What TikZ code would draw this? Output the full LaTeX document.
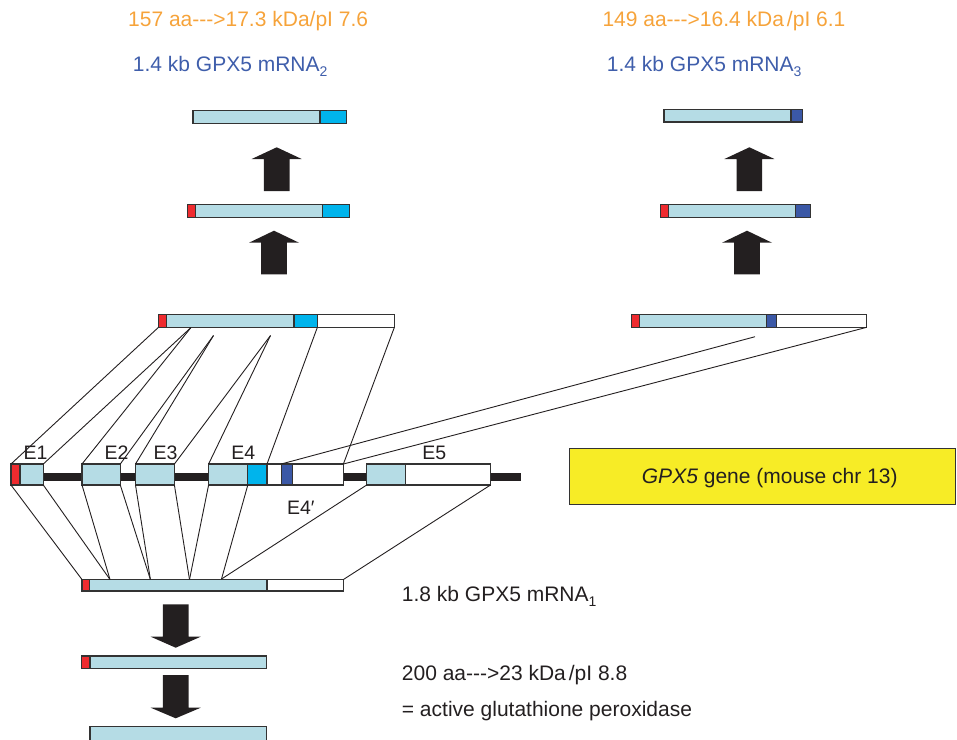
\documentclass[tikz,border=0pt]{standalone}
\usepackage{fontspec}
\setmainfont{Liberation Sans}
\definecolor{lb}{HTML}{B5DCE5}
\definecolor{cy}{HTML}{00B4EC}
\definecolor{db}{HTML}{3B58A6}
\definecolor{rd}{HTML}{EE2B2F}
\definecolor{yel}{HTML}{F7EC26}
\definecolor{org}{HTML}{F6A33A}
\definecolor{blu}{HTML}{3F5EAB}
\definecolor{dk}{HTML}{231F20}
\definecolor{outl}{HTML}{333333}
\newcommand\dsh{\mbox{-}\mbox{-}\mbox{-}\mbox{>}}
\newcommand\sbs[1]{\raisebox{-4.5pt}{\fontsize{14}{14}\selectfont #1}}
\newcommand\segm[6]{\node[segbox, fill=#2, minimum width={(#4-#3)*1pt}, minimum height={(#6-#5)*1pt}] (#1) at ({(#3+#4)/2},{(#5+#6)/2}) {};}
\newcommand\blkarr[4]{\fill[dk] ({#1},{#2}) -- ({#1+25},{#3}) -- ({#1+12.8},{#3}) -- ({#1+12.8},{#4}) -- ({#1-12.8},{#4}) -- ({#1-12.8},{#3}) -- ({#1-25},{#3}) -- cycle;}
\tikzset{
 segbox/.style={draw=outl, line width=1.1pt, inner sep=0pt, outer sep=0pt, rectangle},
 conn/.style={draw=dk, line width=0.9pt},
 intron/.style={draw=dk, line width=7.3pt},
 lbl/.style={inner sep=0pt, anchor=base west, font=\fontsize{21}{25}\selectfont},
 exlbl/.style={inner sep=0pt, anchor=base, font=\fontsize{19.5}{23}\selectfont, text=dk},
}
\begin{document}
\begin{tikzpicture}[x=1pt,y=-1pt]
\clip (0,0) rectangle (957,739);
% gene
\coordinate (gs) at (43,477);
\coordinate (ge) at (521,477);
\draw[intron] (gs) -- (ge);
\segm{e1a}{rd}{11}{20}{464}{485}
\segm{e1b}{lb}{20}{43.3}{464}{485}
\segm{e2}{lb}{82}{120.3}{464}{485}
\segm{e3}{lb}{135.5}{174.4}{464}{485}
\segm{e4a}{lb}{208.6}{247.8}{464}{485}
\segm{e4b}{cy}{247.8}{267}{464}{485}
\segm{e4p}{white}{267}{343.4}{464}{485}
\segm{e4q}{db}{281.2}{292.7}{464}{485}
\segm{e5a}{lb}{366.7}{405.3}{464}{485}
\segm{e5b}{white}{405.3}{490.5}{464}{485}
\node[exlbl] (le1) at (35.5,459) {E1};
\node[exlbl] (le2) at (116.6,459) {E2};
\node[exlbl] (le3) at (165.6,459) {E3};
\node[exlbl] (le4) at (243.4,459) {E4};
\node[exlbl] (le5) at (434.3,459) {E5};
\node[exlbl] (le4p) at (300.8,514.5) {E4′};
% pre-mRNA 2
\segm{p2a}{rd}{158.3}{166.7}{314.5}{327.5}
\segm{p2b}{lb}{166.7}{294}{314.5}{327.5}
\segm{p2c}{cy}{294}{317.3}{314.5}{327.5}
\segm{p2d}{white}{317.3}{394.3}{314.5}{327.5}
\coordinate (c1) at (191,327.5);
\coordinate (c2) at (213.5,335.5);
\coordinate (c3) at (270.5,335.5);
\draw[conn] (p2a.south west) -- (e1a.north west);
\draw[conn] (c1) -- (e1b.north east);
\draw[conn] (c1) -- (e2.north west);
\draw[conn] (c2) -- (e2.north east);
\draw[conn] (c2) -- (e3.north west);
\draw[conn] (c3) -- (e3.north east);
\draw[conn] (c3) -- (e4a.north west);
\draw[conn] (p2d.south west) -- (e4b.north east);
\draw[conn] (p2d.south east) -- (e4p.north east);
% pre-mRNA 3
\segm{p3a}{rd}{631.7}{639.3}{314.3}{327.3}
\segm{p3b}{lb}{639.3}{766.7}{314.3}{327.3}
\segm{p3c}{db}{766.7}{776.7}{314.3}{327.3}
\segm{p3d}{white}{776.7}{866.7}{314.3}{327.3}
\coordinate (c4) at (755,336.7);
\draw[conn] (e4q.north west) -- (c4);
\draw[conn] (e4p.north east) -- (p3d.south east);
% mRNA1
\segm{m1a}{rd}{82}{89.6}{579.5}{591}
\segm{m1b}{lb}{89.6}{267}{579.5}{591}
\segm{m1c}{white}{267}{343.4}{579.5}{591}
\coordinate (d1) at (110,579.5);
\coordinate (d2) at (150.4,579.5);
\coordinate (d3) at (189.5,579.5);
\coordinate (d4) at (221.5,579);
\draw[conn] (e1a.south west) -- (m1a.north west);
\draw[conn] (e1b.south east) -- (d1);
\draw[conn] (e2.south west) -- (d1);
\draw[conn] (e2.south east) -- (d2);
\draw[conn] (e3.south west) -- (d2);
\draw[conn] (e3.south east) -- (d3);
\draw[conn] (e4a.south west) -- (d3);
\draw[conn] (e4a.south east) -- (d4);
\draw[conn] (e5a.south west) -- (d4);
\draw[conn] (e5b.south east) -- (m1c.north east);
% processed products left
\segm{q2a}{rd}{187.7}{195.7}{204.3}{217.3}
\segm{q2b}{lb}{195.7}{322.7}{204.3}{217.3}
\segm{q2c}{cy}{322.7}{349.3}{204.3}{217.3}
\segm{r2a}{lb}{193}{320}{110.7}{123.3}
\segm{r2b}{cy}{320}{346.7}{110.7}{123.3}
\blkarr{274}{230.7}{242.7}{274.3}
\blkarr{276.7}{147.3}{159}{191}
% processed products right
\segm{q3a}{rd}{660.3}{668.7}{204.3}{217.3}
\segm{q3b}{lb}{668.7}{795.7}{204.3}{217.3}
\segm{q3c}{db}{795.7}{810.7}{204.3}{217.3}
\segm{r3a}{lb}{664}{791}{109.5}{122}
\segm{r3b}{db}{791}{802.7}{109.5}{122}
\blkarr{747}{230.7}{242.7}{274.3}
\blkarr{749.4}{147.3}{159}{191}
% bottom products
\blkarr{175.7}{647.7}{636.7}{604.3}
\segm{n1a}{rd}{81.7}{90}{656}{668.3}
\segm{n1b}{lb}{90}{266.7}{656}{668.3}
\blkarr{175.7}{718.3}{707.7}{675}
\segm{o1}{lb}{90}{266.7}{726.7}{745}
% yellow box
\node[draw=outl, fill=yel, line width=1pt, minimum width=385.7pt, minimum height=55.7pt, inner sep=0pt] (ybox) at (762.2,476.2) {};
\node[lbl, text=dk] (ytxt) at (641.7,483.3) {\textit{GPX5} gene (mouse chr 13)};
% texts
\node[lbl, text=org] (t1) at (128,26) {157 aa\dsh17.3 kDa/pI 7.6};
\node[lbl, text=blu] (t2) at (132.7,71.7) {1.4 kb GPX5 mRNA\sbs{2}};
\node[lbl, text=org] (t3) at (602.3,26) {149 aa\dsh16.4 kDa\hspace{3pt}/pI 6.1};
\node[lbl, text=blu] (t4) at (606.7,71.7) {1.4 kb GPX5 mRNA\sbs{3}};
\node[lbl, text=dk] (t5) at (401.7,601.7) {1.8 kb GPX5 mRNA\sbs{1}};
\node[lbl, text=dk] (t6) at (401.7,680) {200 aa\dsh23 kDa\hspace{3pt}/pI 8.8};
\node[lbl, text=dk] (t7) at (401.7,716.7) {= active glutathione peroxidase};
\end{tikzpicture}
\end{document}
